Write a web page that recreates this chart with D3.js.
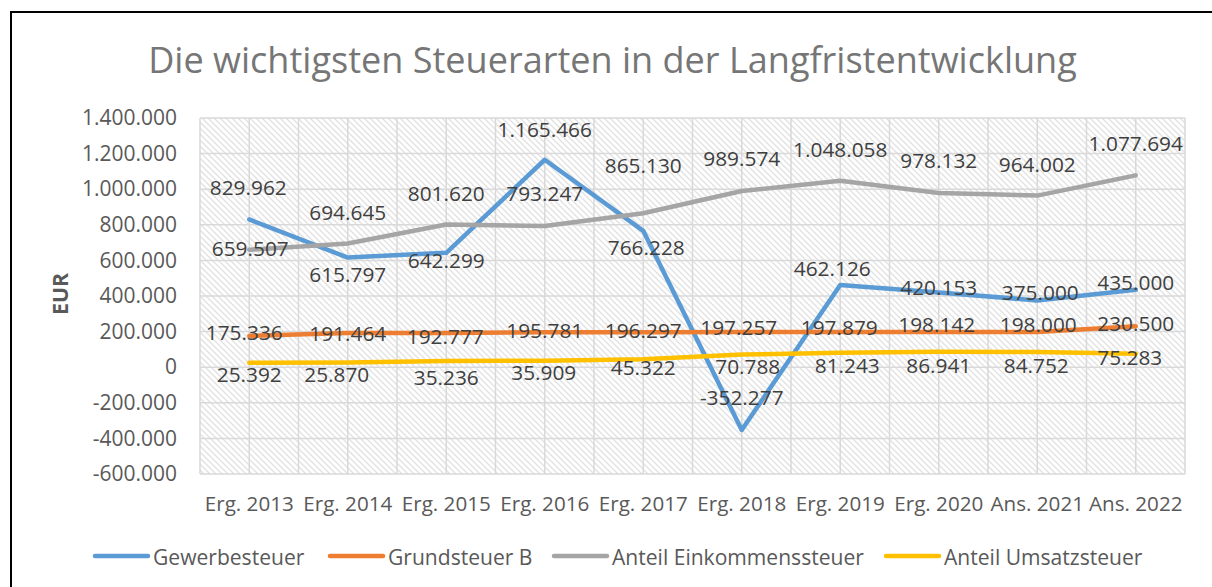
<!DOCTYPE html>
<html>
<head>
<meta charset="utf-8">
<script src="https://cdn.jsdelivr.net/npm/d3@7"></script>
<style>
  html, body { margin: 0; padding: 0; background: #fff; }
  svg { display: block; }
  text { font-family: "Open Sans", "Noto Sans", sans-serif; }
</style>
</head>
<body>
<svg id="chart" width="1212" height="587"></svg>
<script>
// ---------------- data ----------------
const categories = ["Erg. 2013","Erg. 2014","Erg. 2015","Erg. 2016","Erg. 2017","Erg. 2018","Erg. 2019","Erg. 2020","Ans. 2021","Ans. 2022"];
const seriesNames = ["Gewerbesteuer","Grundsteuer B","Anteil Einkommenssteuer","Anteil Umsatzsteuer"];
const gewerbesteuer = [829962, 615797, 642299, 1165466, 766228, -352277, 462126, 420153, 375000, 435000];
const grundsteuerB  = [175336, 191464, 192777, 195781, 196297, 197257, 197879, 198142, 198000, 230500];
const einkommen     = [659507, 694645, 801620, 793247, 865130, 989574, 1048058, 978132, 964002, 1077694];
const umsatz        = [25392, 25870, 35236, 35909, 45322, 70788, 81243, 86941, 84752, 75283];
const yTicks = [-600000,-400000,-200000,0,200000,400000,600000,800000,1000000,1200000,1400000];
const title = "Die wichtigsten Steuerarten in der Langfristentwicklung";
const yTitle = "EUR";

// label placement (style): offsets of each data label from its point, px
const labelDx = [
  [-1, 0, 0, 0, 3, 0, -8, 0, 3, 0],
  [-5, 0, -1, 0, 0, -3, -1, -2, 1, 0],
  [1, 0, 0, 0, 0, 0, 0, 0, 0, 0],
  [0, -11, 0, -1, 0, 6, 7, 0, -1, -6]
];
const labelDy = [
  [-32, 16, 7, -31, 16, -33, -17, -5, -8, -8],
  [-4, 0, 3, -2, -2, -5, -5, -8, -8, -3],
  [-2, -32, -32, -33, -48, -33, -32, -33, -32, -32],
  [11, 11, 16, 11, 8, 11, 12, 13, 13, 3]
];
const colors = ["#5B9BD5", "#ED7D31", "#A5A5A5", "#FFC000"];
const allSeries = [gewerbesteuer, grundsteuerB, einkommen, umsatz];

// ---------------- setup ----------------
const svg = d3.select("#chart");
const de = d3.formatLocale({decimal: ",", thousands: ".", grouping: [3], currency: ["", " €"], minus: "-"});
const fmt = de.format(",d");

function fitSize(str, targetWidth, weight) {
  const t = svg.append("text").attr("font-size", 100).attr("font-weight", weight || "normal").text(str);
  const w = t.node().getComputedTextLength();
  t.remove();
  return 100 * targetWidth / w;
}
const fsTitle = fitSize(title, 929, "normal");
const fsTick = fitSize("1.400.000", 95);
const fsLabel = fitSize("829.962", 77);
const fsCat = fitSize("Erg. 2013", 89);
const fsLegend = fitSize("Anteil Einkommenssteuer", 252);
const fsYTitle = fitSize("EUR", 42, "bold");

const plot = {left: 200, right: 1185, top: 118, bottom: 474};
const x = d3.scaleBand().domain(categories).range([plot.left, plot.right]).padding(0);
const cx = c => x(c) + x.bandwidth() / 2;
const y = d3.scaleLinear().domain([-600000, 1400000]).range([plot.bottom, plot.top]);

// frame
svg.append("rect").attr("x", 11).attr("y", 12).attr("width", 1300).attr("height", 700)
  .attr("fill", "none").attr("stroke", "#000").attr("stroke-width", 2);

// hatch pattern
const defs = svg.append("defs");
const pat = defs.append("pattern").attr("id", "hatch").attr("patternUnits", "userSpaceOnUse")
  .attr("width", 6).attr("height", 6);
pat.append("path").attr("d", "M-1,-1 L7,7 M-1,5 L1,7 M5,-1 L7,1")
  .attr("stroke", "#e2e2e2").attr("stroke-width", 1.4);
svg.append("rect").attr("x", plot.left).attr("y", plot.top)
  .attr("width", plot.right - plot.left).attr("height", plot.bottom - plot.top)
  .attr("fill", "url(#hatch)");

// gridlines
const grid = svg.append("g").attr("stroke", "#d9d9d9").attr("stroke-width", 1.5);
yTicks.forEach(v => grid.append("line").attr("x1", plot.left).attr("x2", plot.right)
  .attr("y1", y(v)).attr("y2", y(v)));
const vx = [];
categories.forEach(c => { vx.push(x(c)); vx.push(cx(c)); });
vx.push(plot.right);
vx.forEach(px => grid.append("line").attr("x1", px).attr("x2", px)
  .attr("y1", plot.top).attr("y2", plot.bottom));

// y axis labels
const yAxis = d3.axisLeft(y).tickValues(yTicks).tickFormat(fmt).tickSize(0).tickPadding(0);
const gy = svg.append("g").attr("transform", `translate(177,0)`).call(yAxis);
gy.select(".domain").remove();
gy.selectAll("text").attr("font-size", fsTick).attr("fill", "#595959")
  .attr("font-family", '"Open Sans", sans-serif');

// x axis labels
const xAxis = d3.axisBottom(x).tickSize(0).tickPadding(0);
const gx = svg.append("g").attr("transform", `translate(0,496)`).call(xAxis);
gx.select(".domain").remove();
gx.selectAll("text").attr("font-size", fsCat).attr("fill", "#595959")
  .attr("font-family", '"Open Sans", sans-serif').attr("dy", "0.71em");

// title
svg.append("text").attr("x", 612.5).attr("y", 73).attr("text-anchor", "middle")
  .attr("font-size", fsTitle).attr("fill", "#767676").text(title);

// y title
svg.append("text").attr("transform", "translate(59,294) rotate(-90)")
  .attr("text-anchor", "middle").attr("dominant-baseline", "central")
  .attr("font-size", fsYTitle).attr("font-weight", "bold").attr("fill", "#595959").text(yTitle);

// lines
const line = d3.line().x((d, i) => cx(categories[i])).y(d => y(d));
allSeries.forEach((s, k) => {
  svg.append("path").datum(s).attr("d", line).attr("fill", "none")
    .attr("stroke", colors[k]).attr("stroke-width", 4.5)
    .attr("stroke-linejoin", "round").attr("stroke-linecap", "round");
});

// data labels
allSeries.forEach((s, k) => {
  svg.append("g").selectAll("text").data(s).join("text")
    .attr("x", (d, i) => cx(categories[i]) + labelDx[k][i])
    .attr("y", (d, i) => y(d) + labelDy[k][i])
    .attr("text-anchor", "middle").attr("dominant-baseline", "central")
    .attr("font-size", fsLabel).attr("fill", "#404040")
    .text(d => fmt(d));
});

// legend
const legendItems = [
  {name: seriesNames[0], x0: 95},
  {name: seriesNames[1], x0: 330},
  {name: seriesNames[2], x0: 554},
  {name: seriesNames[3], x0: 886}
];
const lg = svg.append("g");
legendItems.forEach((it, k) => {
  lg.append("line").attr("x1", it.x0).attr("x2", it.x0 + 53).attr("y1", 556).attr("y2", 556)
    .attr("stroke", colors[k]).attr("stroke-width", 4.5).attr("stroke-linecap", "round");
  lg.append("text").attr("x", it.x0 + 58).attr("y", 556).attr("dominant-baseline", "central")
    .attr("font-size", fsLegend).attr("fill", "#595959").text(it.name);
});
</script>
</body>
</html>
